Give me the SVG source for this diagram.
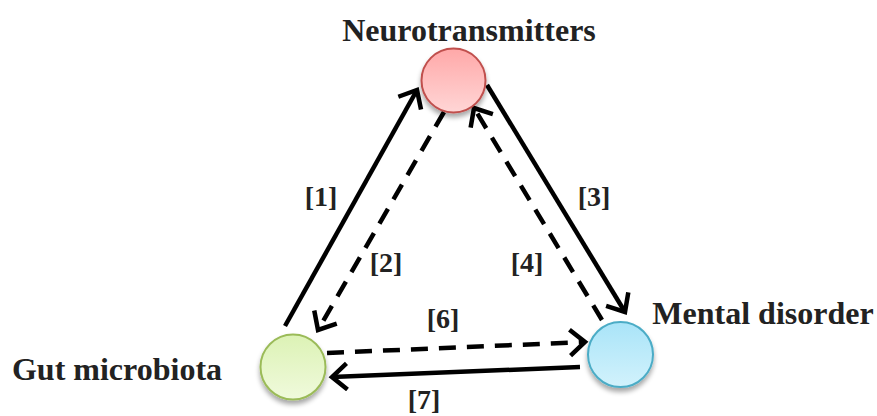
<svg xmlns="http://www.w3.org/2000/svg" width="877" height="416" viewBox="0 0 877 416">
<defs>
<style>
.lbl{font-family:"Liberation Serif","Times New Roman",serif;font-weight:bold;font-size:32px;fill:#222}
.num{font-family:"Liberation Serif","Times New Roman",serif;font-weight:bold;font-size:28px;fill:#222}
.edge{fill:none;stroke:#000;stroke-width:4.5;marker-end:url(#chev)}
.dash{stroke-dasharray:17 11}
</style>
<marker id="chev" markerUnits="userSpaceOnUse" markerWidth="30" markerHeight="30" viewBox="0 0 30 30" refX="20" refY="15" orient="auto">
<path d="M5,2 L20,15 L5,28" fill="none" stroke="#000" stroke-width="4.5"/>
</marker>
<linearGradient id="gr" x1="0" y1="0" x2="0" y2="1"><stop offset="0" stop-color="#ffa8a8"/><stop offset="1" stop-color="#ffd6d6"/></linearGradient>
<linearGradient id="gg" x1="0" y1="0" x2="0" y2="1"><stop offset="0" stop-color="#dcf2b5"/><stop offset="1" stop-color="#f0fadc"/></linearGradient>
<linearGradient id="gb" x1="0" y1="0" x2="0" y2="1"><stop offset="0" stop-color="#a9e4f8"/><stop offset="1" stop-color="#d2f2fc"/></linearGradient>
<filter id="sh" x="-30%" y="-30%" width="160%" height="170%"><feGaussianBlur in="SourceAlpha" stdDeviation="2.5"/><feOffset dy="4"/><feComponentTransfer><feFuncA type="linear" slope="0.35"/></feComponentTransfer><feMerge><feMergeNode/><feMergeNode in="SourceGraphic"/></feMerge></filter>
</defs>
<rect width="877" height="416" fill="#fff"/>
<g id="connectors">
<line class="edge" x1="285" y1="326" x2="417" y2="90"/>
<line class="edge dash" x1="444" y1="112" x2="318" y2="330"/>
<line class="edge" x1="487" y1="85" x2="625" y2="312"/>
<line class="edge dash" x1="602" y1="320" x2="474" y2="108"/>
<line class="edge dash" x1="327" y1="353" x2="585" y2="342"/>
<line class="edge" x1="580" y1="367" x2="332" y2="377"/>
<text class="num" x="321" y="206" text-anchor="middle">[1]</text>
<text class="num" x="386" y="272" text-anchor="middle">[2]</text>
<text class="num" x="594" y="206" text-anchor="middle">[3]</text>
<text class="num" x="527" y="272" text-anchor="middle">[4]</text>
<text class="num" x="443" y="328" text-anchor="middle">[6]</text>
<text class="num" x="424" y="409" text-anchor="middle">[7]</text>
</g>
<g id="neurotransmitters">
<circle cx="453.5" cy="80.5" r="32" fill="url(#gr)" stroke="#c0504d" stroke-width="2" filter="url(#sh)"/>
<text class="lbl" x="469" y="41" text-anchor="middle">Neurotransmitters</text>
</g>
<g id="gut-microbiota">
<circle cx="293" cy="367" r="32.5" fill="url(#gg)" stroke="#9bbb59" stroke-width="2" filter="url(#sh)"/>
<text class="lbl" x="117" y="380" text-anchor="middle">Gut microbiota</text>
</g>
<g id="mental-disorder">
<circle cx="620.5" cy="354.5" r="32.5" fill="url(#gb)" stroke="#4bacc6" stroke-width="2" filter="url(#sh)"/>
<text class="lbl" x="763" y="324" text-anchor="middle">Mental disorder</text>
</g>
</svg>
